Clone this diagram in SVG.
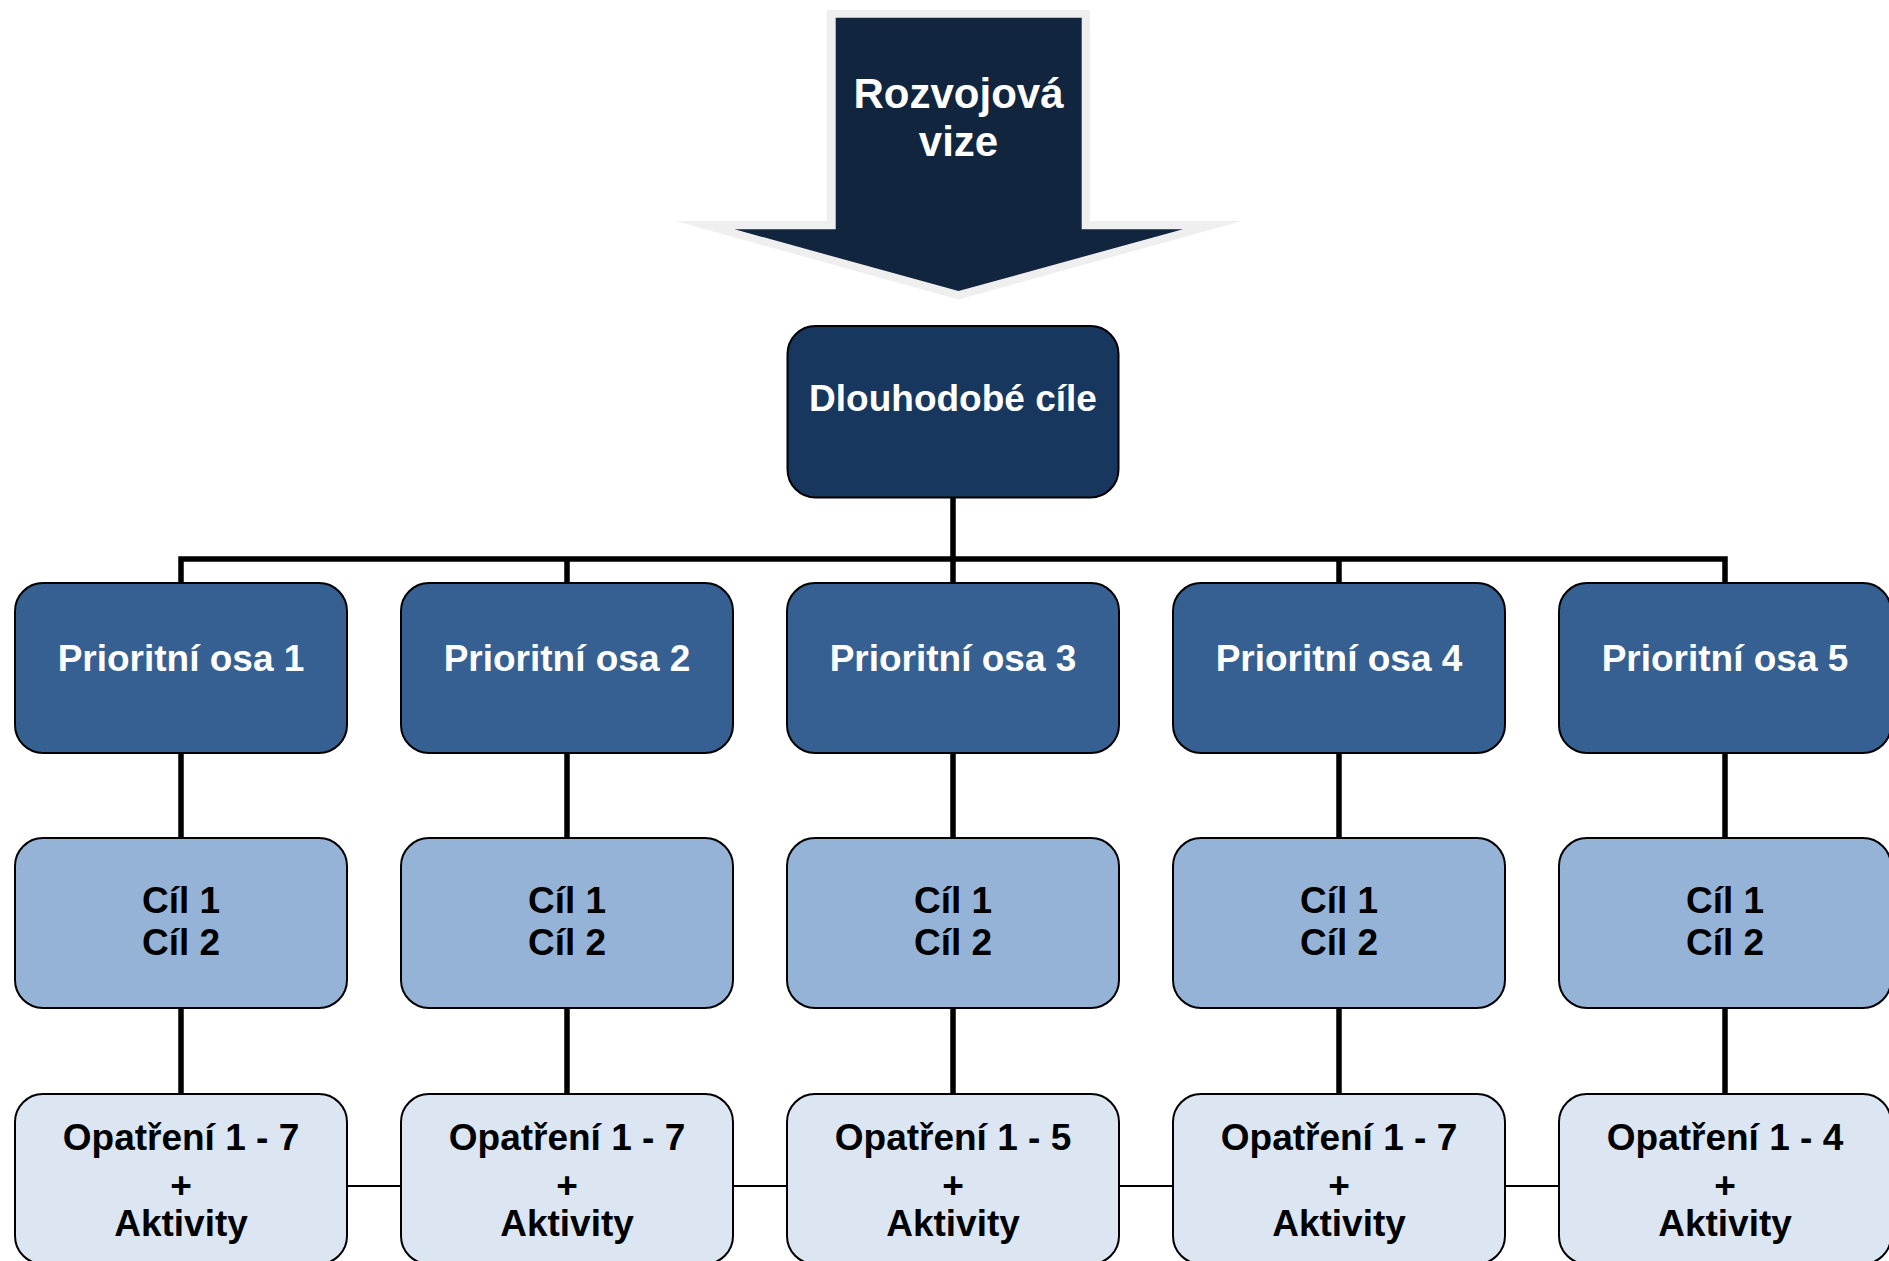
<svg xmlns="http://www.w3.org/2000/svg" width="1889" height="1261" viewBox="0 0 1889 1261">
<style>
text{font-family:"Liberation Sans",Arial,sans-serif;font-weight:bold;font-size:37px;text-anchor:middle}
.w{fill:#ffffff}
.k{fill:#000000}
.box{stroke:#000000;stroke-width:2}
.top{fill:#17375E}
.pa{fill:#366092}
.ci{fill:#95B3D7}
.op{fill:#DCE6F2}
.thick{stroke:#000000;stroke-width:5.5;fill:none}
.thin{stroke:#000000;stroke-width:2;fill:none}
</style>
<rect width="1889" height="1261" fill="#ffffff"/>
<g id="vize">
<polygon points="826.7,10 1090,10 1090,221 1242,221 958.5,299.5 675.5,221 826.7,221" fill="#EFEFEF"/>
<polygon points="835.7,17.7 1081.7,17.7 1081.7,229.3 1183,229.3 958.5,291 734.5,229.3 835.7,229.3" fill="#12253F"/>
<text class="w" x="958.5" y="107.5" style="font-size:42px">Rozvojová</text>
<text class="w" x="958.5" y="155.5" style="font-size:42px">vize</text>
</g>
<g id="connectors">
<polyline class="thick" points="953,498 953,559"/>
<polyline class="thick" points="181,583 181,559 1725,559 1725,583"/>
<line class="thick" x1="567" y1="559" x2="567" y2="583"/>
<line class="thick" x1="953" y1="559" x2="953" y2="583"/>
<line class="thick" x1="1339" y1="559" x2="1339" y2="583"/>
<line class="thick" x1="181" y1="753" x2="181" y2="838"/>
<line class="thick" x1="567" y1="753" x2="567" y2="838"/>
<line class="thick" x1="953" y1="753" x2="953" y2="838"/>
<line class="thick" x1="1339" y1="753" x2="1339" y2="838"/>
<line class="thick" x1="1725" y1="753" x2="1725" y2="838"/>
<line class="thick" x1="181" y1="1008" x2="181" y2="1094"/>
<line class="thick" x1="567" y1="1008" x2="567" y2="1094"/>
<line class="thick" x1="953" y1="1008" x2="953" y2="1094"/>
<line class="thick" x1="1339" y1="1008" x2="1339" y2="1094"/>
<line class="thick" x1="1725" y1="1008" x2="1725" y2="1094"/>
<line class="thin" x1="347" y1="1186" x2="401" y2="1186"/>
<line class="thin" x1="733" y1="1186" x2="787" y2="1186"/>
<line class="thin" x1="1119" y1="1186" x2="1173" y2="1186"/>
<line class="thin" x1="1505" y1="1186" x2="1559" y2="1186"/>
</g>
<g id="dlouhodobe">
<rect class="box top" x="787.5" y="326" width="331" height="171.5" rx="28"/>
<text class="w" x="953" y="411">Dlouhodobé cíle</text>
</g>
<g id="osa1"><rect class="box pa" x="15" y="583" width="332" height="170" rx="28"/><text class="w" x="181" y="671">Prioritní osa 1</text></g>
<g id="osa2"><rect class="box pa" x="401" y="583" width="332" height="170" rx="28"/><text class="w" x="567" y="671">Prioritní osa 2</text></g>
<g id="osa3"><rect class="box pa" x="787" y="583" width="332" height="170" rx="28"/><text class="w" x="953" y="671">Prioritní osa 3</text></g>
<g id="osa4"><rect class="box pa" x="1173" y="583" width="332" height="170" rx="28"/><text class="w" x="1339" y="671">Prioritní osa 4</text></g>
<g id="osa5"><rect class="box pa" x="1559" y="583" width="332" height="170" rx="28"/><text class="w" x="1725" y="671">Prioritní osa 5</text></g>
<g id="cil1"><rect class="box ci" x="15" y="838" width="332" height="170" rx="28"/><text class="k" x="181" y="913">Cíl 1</text><text class="k" x="181" y="955">Cíl 2</text></g>
<g id="cil2"><rect class="box ci" x="401" y="838" width="332" height="170" rx="28"/><text class="k" x="567" y="913">Cíl 1</text><text class="k" x="567" y="955">Cíl 2</text></g>
<g id="cil3"><rect class="box ci" x="787" y="838" width="332" height="170" rx="28"/><text class="k" x="953" y="913">Cíl 1</text><text class="k" x="953" y="955">Cíl 2</text></g>
<g id="cil4"><rect class="box ci" x="1173" y="838" width="332" height="170" rx="28"/><text class="k" x="1339" y="913">Cíl 1</text><text class="k" x="1339" y="955">Cíl 2</text></g>
<g id="cil5"><rect class="box ci" x="1559" y="838" width="332" height="170" rx="28"/><text class="k" x="1725" y="913">Cíl 1</text><text class="k" x="1725" y="955">Cíl 2</text></g>
<g id="opatreni1"><rect class="box op" x="15" y="1094" width="332" height="170" rx="28"/><text class="k" x="181" y="1150">Opatření 1 - 7</text><text class="k" x="181" y="1198">+</text><text class="k" x="181" y="1236">Aktivity</text></g>
<g id="opatreni2"><rect class="box op" x="401" y="1094" width="332" height="170" rx="28"/><text class="k" x="567" y="1150">Opatření 1 - 7</text><text class="k" x="567" y="1198">+</text><text class="k" x="567" y="1236">Aktivity</text></g>
<g id="opatreni3"><rect class="box op" x="787" y="1094" width="332" height="170" rx="28"/><text class="k" x="953" y="1150">Opatření 1 - 5</text><text class="k" x="953" y="1198">+</text><text class="k" x="953" y="1236">Aktivity</text></g>
<g id="opatreni4"><rect class="box op" x="1173" y="1094" width="332" height="170" rx="28"/><text class="k" x="1339" y="1150">Opatření 1 - 7</text><text class="k" x="1339" y="1198">+</text><text class="k" x="1339" y="1236">Aktivity</text></g>
<g id="opatreni5"><rect class="box op" x="1559" y="1094" width="332" height="170" rx="28"/><text class="k" x="1725" y="1150">Opatření 1 - 4</text><text class="k" x="1725" y="1198">+</text><text class="k" x="1725" y="1236">Aktivity</text></g>
</svg>
